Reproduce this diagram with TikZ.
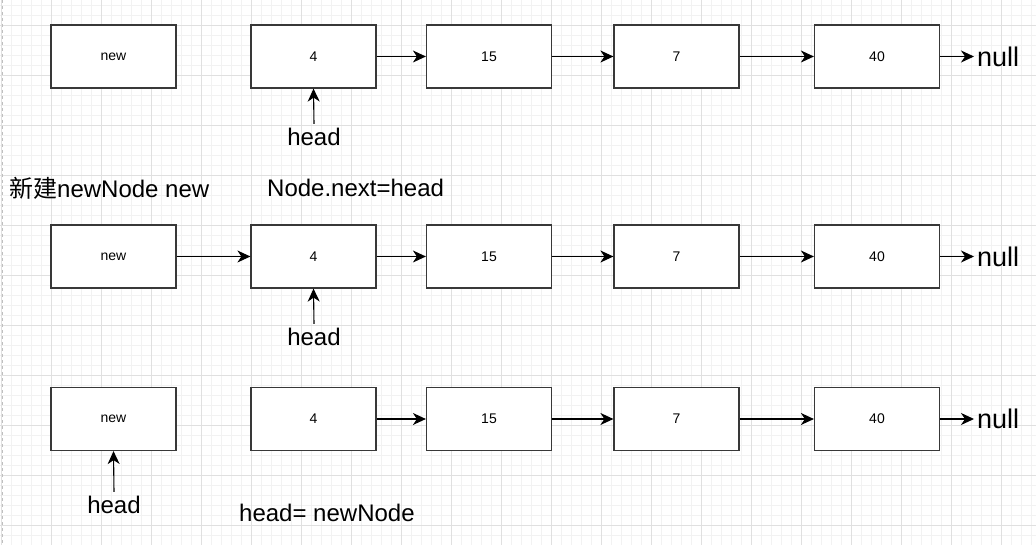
\documentclass[tikz,border=0pt]{standalone}
\usepackage{fontspec}
\setmainfont{Liberation Sans}
\newfontfamily\cjk{Noto Sans CJK SC}
\usetikzlibrary{arrows.meta}
\begin{document}
\begin{tikzpicture}[x=1pt,y=-1pt,
  box/.style={draw=black!78,line width=1.2pt,fill=white,minimum width=125pt,minimum height=63pt,inner sep=0pt,font=\fontsize{14}{16}\selectfont},
  lbl/.style={inner sep=1pt,font=\fontsize{24}{26}\selectfont},
  hd/.style={inner sep=4pt,font=\fontsize{24}{26}\selectfont},
  nul/.style={inner sep=3pt,font=\fontsize{27}{28}\selectfont,anchor=west},
  arr/.style={-{Stealth[length=13pt,width=12pt,inset=4pt]},line width=1.1pt,black}]
\useasboundingbox (0,0) rectangle (1036,545);
\fill[white] (0,0) rectangle (1036,545);
% grid
\foreach \x in {1,11,...,1031} {\draw[black!5,line width=0.8pt] (\x,0) -- (\x,545);}
\foreach \y in {5,15,...,545} {\draw[black!5,line width=0.8pt] (0,\y) -- (1036,\y);}
\foreach \x in {1,51,...,1031} {\draw[black!12,line width=0.8pt] (\x,0) -- (\x,545);}
\foreach \y in {25,75,...,545} {\draw[black!12,line width=0.8pt] (0,\y) -- (1036,\y);}
\draw[black!25,dashed,line width=1pt] (2,0) -- (2,545);
% row 1
\node[box] (a0) at (113.5,56.5) {new};
\node[box] (a1) at (313.5,56.5) {4};
\node[box] (a2) at (489,56.5) {15};
\node[box] (a3) at (676.5,56.5) {7};
\node[box] (a4) at (877,56.5) {40};
\node[nul] (an) at (974,56.5) {null};
\draw[arr] (a1) -- (a2);
\draw[arr] (a2) -- (a3);
\draw[arr] (a3) -- (a4);
\draw[arr] (a4) -- (an);
\node[hd] (ah) at (314,137) {head};
\draw[arr] (ah.north) -- (a1.south);
% labels between
\node[lbl,anchor=west] (t1) at (8,188) {{\cjk 新建}newNode new};
\node[lbl,anchor=west] (t2) at (266,188) {Node.next=head};
% row 2
\node[box] (b0) at (113.5,256.5) {new};
\node[box] (b1) at (313.5,256.5) {4};
\node[box] (b2) at (489,256.5) {15};
\node[box] (b3) at (676.5,256.5) {7};
\node[box] (b4) at (877,256.5) {40};
\node[nul] (bn) at (974,256.5) {null};
\draw[arr] (b0) -- (b1);
\draw[arr] (b1) -- (b2);
\draw[arr] (b2) -- (b3);
\draw[arr] (b3) -- (b4);
\draw[arr] (b4) -- (bn);
\node[hd] (bh) at (314,337) {head};
\draw[arr] (bh.north) -- (b1.south);
% row 3
\node[box] (c0) at (113.5,419) {new};
\node[box] (c1) at (313.5,419) {4};
\node[box] (c2) at (489,419) {15};
\node[box] (c3) at (676.5,419) {7};
\node[box] (c4) at (877,419) {40};
\node[nul] (cn) at (974,419) {null};
\draw[arr] (c1) -- (c2);
\draw[arr] (c2) -- (c3);
\draw[arr] (c3) -- (c4);
\draw[arr] (c4) -- (cn);
\node[hd] (ch) at (114,505) {head};
\draw[arr] (ch.north) -- (c0.south);
\node[lbl,anchor=west] (t3) at (238,513) {head= newNode};
\end{tikzpicture}
\end{document}
